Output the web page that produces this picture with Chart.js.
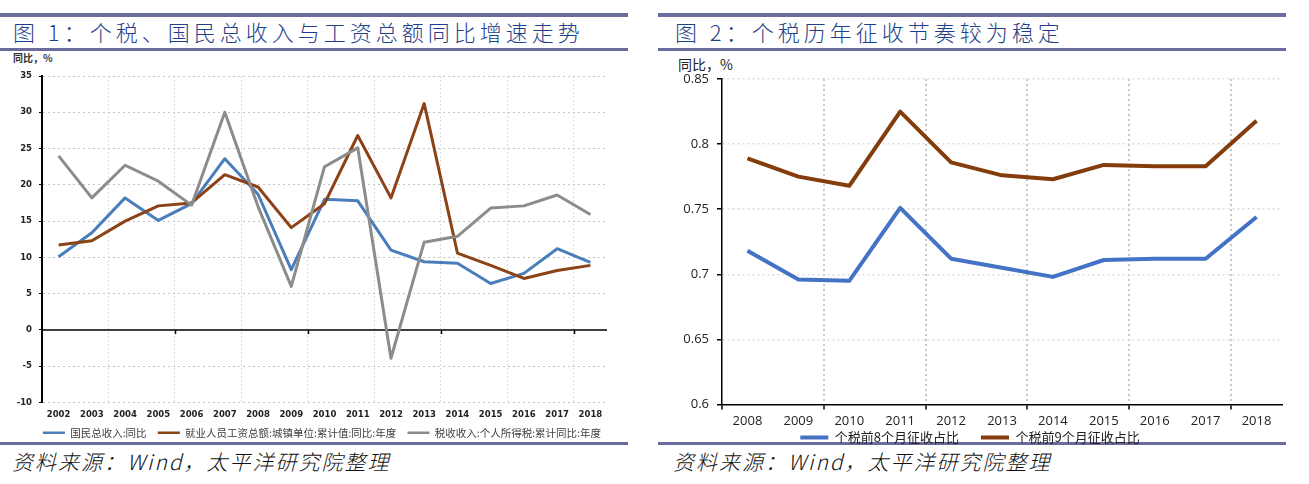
<!DOCTYPE html>
<html><head><meta charset="utf-8">
<script src="https://cdn.jsdelivr.net/npm/chart.js@4.4.1/dist/chart.umd.min.js"></script>
<style>
body{margin:0;width:1309px;height:484px;background:#fff;position:relative;overflow:hidden;font-family:"Noto Sans CJK SC",sans-serif;}
.bar{position:absolute;background:#6B6B9E;}
.title{position:absolute;font-size:22px;color:#1F3F8A;letter-spacing:4px;white-space:nowrap;line-height:1;font-weight:300;}
.unit{position:absolute;white-space:nowrap;line-height:1;}
.src{position:absolute;font-size:21px;font-style:italic;letter-spacing:2px;white-space:nowrap;line-height:1;color:#111;font-weight:300;}
canvas{position:absolute;}
</style></head><body>
<div class="bar" style="left:0;top:13px;width:628px;height:4px"></div>
<div class="bar" style="left:0;top:48px;width:628px;height:3px"></div>
<div class="bar" style="left:0;top:442px;width:628px;height:3px"></div>
<div class="bar" style="left:658px;top:13px;width:628px;height:4px"></div>
<div class="bar" style="left:658px;top:48px;width:628px;height:3px"></div>
<div class="bar" style="left:658px;top:442px;width:628px;height:3px"></div>
<div class="title" style="left:13px;top:20px">图 1：个税、国民总收入与工资总额同比增速走势</div>
<div class="title" style="left:675px;top:20px">图 2：个税历年征收节奏较为稳定</div>
<div class="unit" style="left:13px;top:53px;font-size:10px;font-weight:bold;color:#333">同比，%</div>
<div class="unit" style="left:678px;top:57px;font-size:14px;color:#222">同比，%</div>
<div class="src" style="left:12px;top:451px">资料来源：Wind，太平洋研究院整理</div>
<div class="src" style="left:673px;top:451px">资料来源：Wind，太平洋研究院整理</div>
<canvas id="c1" width="628" height="398" style="left:0;top:50px;width:628px;height:398px"></canvas>
<canvas id="c2" width="628" height="404" style="left:658px;top:50px;width:628px;height:404px"></canvas>
<script>
// ---- Chart 1 data ----
const years1 = ['2002','2003','2004','2005','2006','2007','2008','2009','2010','2011','2012','2013','2014','2015','2016','2017','2018'];
const gniYoY = [10.1,13.4,18.2,15.1,17.4,23.6,18.7,8.3,18.0,17.8,11.0,9.4,9.2,6.4,7.8,11.2,9.3];
const wageYoY = [11.7,12.3,15.0,17.1,17.5,21.4,19.7,14.1,17.4,26.8,18.2,31.2,10.6,8.9,7.1,8.2,8.9];
const iitYoY = [24.0,18.2,22.7,20.5,17.2,30.0,17.0,6.0,22.5,25.1,-3.9,12.1,12.9,16.8,17.1,18.6,15.9];
const names1 = ['国民总收入:同比','就业人员工资总额:城镇单位:累计值:同比:年度','税收收入:个人所得税:累计同比:年度'];
// ---- Chart 2 data ----
const years2 = ['2008','2009','2010','2011','2012','2013','2014','2015','2016','2017','2018'];
const share8 = [0.718,0.696,0.695,0.751,0.712,0.705,0.698,0.711,0.712,0.712,0.744];
const share9 = [0.789,0.775,0.768,0.825,0.786,0.776,0.773,0.784,0.783,0.783,0.818];
const names2 = ['个税前8个月征收占比','个税前9个月征收占比'];

function makeLegendLabels(gapSuffix){
  return function(chart){
    const items = Chart.defaults.plugins.legend.labels.generateLabels(chart);
    items.sort((a, b) => a.datasetIndex - b.datasetIndex);
    items.forEach((it, i) => {
      it.fillStyle = it.strokeStyle;
      it.strokeStyle = 'rgba(0,0,0,0)';
      if (gapSuffix && i < items.length - 1) it.text = it.text + gapSuffix;
    });
    return items;
  };
}

const zeroLine = {
  id: 'zeroLine',
  beforeDatasetsDraw(chart){
    const {ctx, chartArea, scales:{x, y}} = chart;
    const py = y.getPixelForValue(0);
    const half = (x.getPixelForValue(1) - x.getPixelForValue(0)) / 2;
    ctx.save();
    ctx.strokeStyle = '#000';
    ctx.lineWidth = 1.5;
    ctx.beginPath();
    ctx.moveTo(chartArea.left, py); ctx.lineTo(chartArea.right, py);
    [4,8,12,16].forEach(i => {
      const px = Math.round(x.getPixelForValue(i) - half) + 0.5;
      ctx.moveTo(px, py); ctx.lineTo(px, py + 4);
    });
    ctx.stroke();
    ctx.restore();
  }
};

const tickFont1 = {family:'"DejaVu Sans"', size:8.5, weight:'bold', lineHeight:1};

new Chart(document.getElementById('c1'), {
  type: 'line',
  data: {
    labels: years1,
    datasets: [
      {label: names1[0], data: gniYoY, borderColor:'#4A7EBB', backgroundColor:'#4A7EBB', borderWidth:3, order:2},
      {label: names1[1], data: wageYoY, borderColor:'#8B4216', backgroundColor:'#8B4216', borderWidth:3, order:1},
      {label: names1[2], data: iitYoY, borderColor:'#8C8C8C', backgroundColor:'#8C8C8C', borderWidth:3, order:0}
    ]
  },
  options: {
    responsive:false, animation:false, devicePixelRatio:1,
    elements:{point:{radius:0}, line:{tension:0, borderJoinStyle:'round'}},
    layout:{padding:{top:26, right:21, left:0, bottom:0}},
    plugins:{
      tooltip:{enabled:false},
      legend:{position:'bottom', align:'end',
        labels:{boxWidth:22, boxHeight:2.5, padding:6, color:'#404040',
          font:{family:'"Noto Sans CJK SC"', size:10.5}, generateLabels:makeLegendLabels('\u2002')}}
    },
    scales:{
      x:{offset:true,
        grid:{offset:true, drawTicks:false, lineWidth:1,
          color: c => (c.index % 2 === 0 && c.index > 0 && c.index < years1.length) ? '#dcdcdc' : 'rgba(0,0,0,0)'},
        border:{display:false, dash:[2,2]},
        ticks:{autoSkip:false, maxRotation:0, padding:8, color:'#222', font:tickFont1},
        afterFit: s => { s.height = 19; }
      },
      y:{min:-10, max:35,
        ticks:{stepSize:5, padding:7, color:'#222', font:tickFont1},
        grid:{lineWidth:1, tickLength:3, tickColor:'#000',
          color: c => (c.tick && c.tick.value === 0) ? 'rgba(0,0,0,0)' : '#c4c4c4'},
        border:{display:true, color:'#000', width:2, dash:[2,3]},
        afterFit: s => { s.width = 42; }
      }
    }
  },
  plugins:[zeroLine]
});

const tickFont2 = {family:'"Open Sans"', size:13, lineHeight:1};

new Chart(document.getElementById('c2'), {
  type: 'line',
  data: {
    labels: years2,
    datasets: [
      {label: names2[0], data: share8, borderColor:'#4472C4', backgroundColor:'#4472C4', borderWidth:4},
      {label: names2[1], data: share9, borderColor:'#843C0C', backgroundColor:'#843C0C', borderWidth:4}
    ]
  },
  options: {
    responsive:false, animation:false, devicePixelRatio:1,
    elements:{point:{radius:0}, line:{tension:0, borderJoinStyle:'round'}},
    layout:{padding:{top:29, right:4, left:0, bottom:0}},
    plugins:{
      tooltip:{enabled:false},
      legend:{position:'bottom',
        labels:{boxWidth:28, boxHeight:4, padding:2.5, color:'#222',
          font:{family:'"Noto Sans CJK SC"', size:13}, generateLabels:makeLegendLabels('\u2003\u2002')}}
    },
    scales:{
      x:{offset:true,
        grid:{offset:true, lineWidth:2, tickLength:5, tickWidth:1.5,
          color: c => (c.index % 2 === 0 && c.index > 0 && c.index < years2.length) ? '#c8c8c8' : 'rgba(0,0,0,0)',
          tickColor: c => (c.index % 2 === 0 && c.index < years2.length) ? '#000' : 'rgba(0,0,0,0)'},
        border:{display:true, color:'#000', width:1.5, dash:[2,3]},
        ticks:{autoSkip:false, maxRotation:0, padding:5, color:'#222', font:tickFont2},
        afterFit: s => { s.height = 24; }
      },
      y:{min:0.6, max:0.85,
        ticks:{stepSize:0.05, padding:8, color:'#222', font:tickFont2,
          callback: v => String(Math.round(v * 100) / 100)},
        grid:{lineWidth:1.5, tickLength:5, tickColor:'#000', tickWidth:1.5,
          color: c => (c.tick && Math.abs(c.tick.value - 0.6) < 1e-9) ? 'rgba(0,0,0,0)' : '#dcdcdc'},
        border:{display:true, color:'#000', width:1.5, dash:[2,3]},
        afterFit: s => { s.width = 64; }
      }
    }
  }
});
</script>
</body></html>
